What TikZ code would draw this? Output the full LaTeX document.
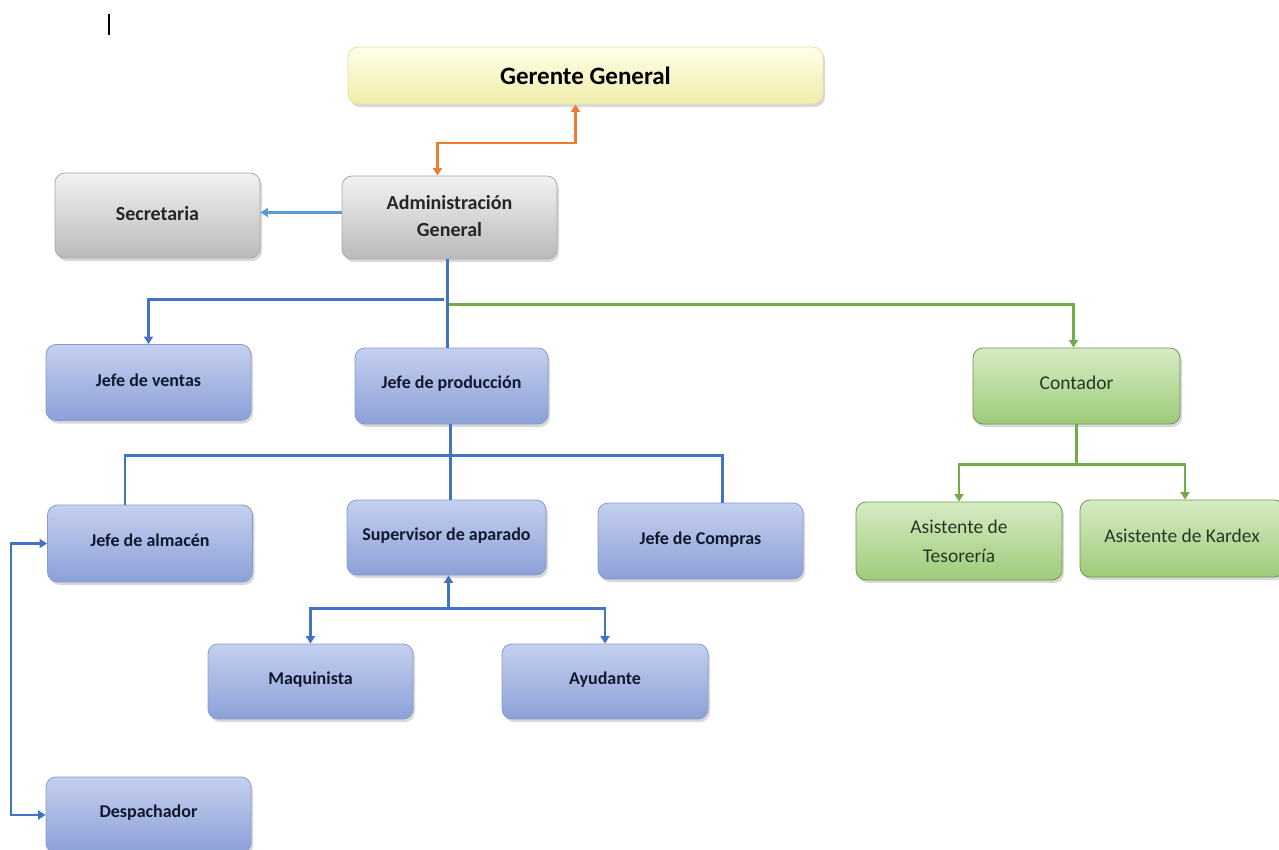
\documentclass[tikz,border=0pt]{standalone}
\usepackage{fontspec}
\setmainfont{Carlito}
\usetikzlibrary{arrows.meta,shadows,calc}

\definecolor{linkblue}{HTML}{4472C4}
\definecolor{linklight}{HTML}{5B9BD5}
\definecolor{linkgreen}{HTML}{70AD47}
\definecolor{linkorange}{HTML}{ED7D31}
\definecolor{txtblue}{HTML}{101830}
\definecolor{txtgreen}{HTML}{263823}
\definecolor{blueedge}{HTML}{879BD2}
\definecolor{bluetop}{HTML}{C4D0EE}
\definecolor{bluemid}{HTML}{A4B4E2}
\definecolor{bluebot}{HTML}{8CA0D8}
\definecolor{grayedge}{HTML}{AAAAAA}
\definecolor{graytop}{HTML}{F2F2F2}
\definecolor{graymid}{HTML}{D6D6D6}
\definecolor{graybot}{HTML}{BABABA}
\definecolor{greenedge}{HTML}{709650}
\definecolor{greentop}{HTML}{D6EBC3}
\definecolor{greenmid}{HTML}{B6D99B}
\definecolor{greenbot}{HTML}{9ECB7A}
\definecolor{yellowedge}{HTML}{E6E2AA}
\definecolor{yellowtop}{HTML}{FFFFE8}
\definecolor{yellowmid}{HTML}{FAF8C4}
\definecolor{yellowbot}{HTML}{F0ECAA}

% raise a label a little above the box centre
\newcommand{\liftby}[2]{\raisebox{#1}{#2}}

\tikzset{
  orgbox/.style={rounded corners=10pt, line width=0.8pt,
    drop shadow={opacity=0.30, shadow xshift=2pt, shadow yshift=-3pt}},
  bluebox/.style={orgbox, draw=blueedge,
    top color=bluetop, middle color=bluemid, bottom color=bluebot,
    minimum width=205pt, minimum height=76pt,
    font=\bfseries\fontsize{18}{22}\selectfont, text=txtblue},
  graybox/.style={orgbox, draw=grayedge,
    top color=graytop, middle color=graymid, bottom color=graybot,
    font=\bfseries\fontsize{20}{26}\selectfont, text=black!85},
  greenbox/.style={orgbox, draw=greenedge,
    top color=greentop, middle color=greenmid, bottom color=greenbot,
    font=\fontsize{19.5}{29}\selectfont, text=txtgreen, align=center},
  yellowbox/.style={orgbox, draw=yellowedge,
    top color=yellowtop, middle color=yellowmid, bottom color=yellowbot,
    font=\bfseries\fontsize{25}{30}\selectfont, text=black},
  arrowend/.style={-{Triangle[width=9pt,length=7.5pt]}},
  botharrows/.style={{Triangle[width=9pt,length=7.5pt]}-{Triangle[width=9pt,length=7.5pt]}},
  blueline/.style={draw=linkblue, line width=2.2pt},
  greenline/.style={draw=linkgreen, line width=2.2pt},
}

\begin{document}
\begin{tikzpicture}[x=1pt, y=-1pt]
\useasboundingbox (0,0) rectangle (1279,850);
\fill[white] (0,0) rectangle (1279,850);

% text cursor mark
\draw[line width=1.3pt, black] (109,14) -- (109,35);

% top management
\node[yellowbox, minimum width=475pt, minimum height=57pt] (gerente) at (585.5,75.5) {Gerente General};
\node[graybox, minimum width=215pt, minimum height=83pt] (admin) at (449.5,217.5)
  {\liftby{4pt}{\begin{tabular}{@{}c@{}}Administración\\[1pt] General\end{tabular}}};
\node[graybox, minimum width=205pt, minimum height=85pt] (secretaria) at (157.5,215.5) {\liftby{5pt}{Secretaria}};

% second level
\node[bluebox] (ventas) at (148.5,382.5) {\liftby{5pt}{Jefe de ventas}};
\node[bluebox, minimum width=193pt] (prod) at (451.5,386) {\liftby{7pt}{Jefe de producción}};
\node[greenbox, minimum width=207pt, minimum height=76pt] (contador) at (1076.5,386) {\liftby{7pt}{Contador}};

% third level
\node[bluebox, minimum height=77pt] (almacen) at (150,543.5) {\liftby{6pt}{Jefe de almacén}};
\node[bluebox, minimum width=199pt, minimum height=75pt] (sup) at (446.5,537.5) {\liftby{6pt}{Supervisor de aparado}};
\node[bluebox] (compras) at (700.5,541) {\liftby{6pt}{Jefe de Compras}};
\node[greenbox, minimum width=206pt, minimum height=78pt] (tesoreria) at (959,541) {Asistente de\\Tesorería};
\node[greenbox, minimum width=204pt, minimum height=77pt] (kardex) at (1182,538.5) {\liftby{6pt}{Asistente de Kardex}};

% fourth level
\node[bluebox, minimum height=75pt] (maq) at (310.5,681.5) {\liftby{6pt}{Maquinista}};
\node[bluebox, minimum width=206pt, minimum height=75pt] (ayud) at (605,681.5) {\liftby{6pt}{Ayudante}};
\node[bluebox] (desp) at (148.5,815) {\liftby{7pt}{Despachador}};

% junction points of the connectors
\coordinate (secout)  at ($(admin.west)+(0,-5)$);
\coordinate (adminout) at ($(admin.south)+(-2,0)$);
\coordinate (prodout)  at ($(prod.south)+(-1,0)$);
\coordinate (supin)    at ($(sup.south)+(2,0)$);
\coordinate (supsplit) at ($(sup.south)+(2,33)$);

% connectors
\draw[linkorange, line width=2.2pt, botharrows]
  ($(admin.north)+(-12,0)$) |- ($(gerente.south)+(-10,39)$) -- ($(gerente.south)+(-10,0)$);
\draw[linklight, line width=2.2pt, arrowend] (secout) -- (secout -| secretaria.east);

\draw[blueline] (adminout) -- (adminout |- prod.north);
\draw[blueline, arrowend] ($(admin.south)+(-6,40)$) -| (ventas.north);
\draw[greenline, arrowend] ($(admin.south)+(-1,45)$) -| ($(contador.north)+(-3,0)$);

\draw[blueline] (prodout) -- (prodout |- sup.north);
\draw[blueline] ($(almacen.north)+(-25,0)$) |- ($(prod.south)+(0,31)$) -| ($(compras.north)+(22,0)$);

\draw[blueline, arrowend] (supsplit) -- (supin);
\draw[blueline, arrowend] (supsplit) -| (maq.north);
\draw[blueline, arrowend] (supsplit) -| (ayud.north);

\draw[blueline, botharrows] (almacen.west) -- ++(-36,0) |- (desp.west);

\draw[greenline] (contador.south) -- ++(0,40) coordinate (gsplit);
\draw[greenline, arrowend] (gsplit) -| (tesoreria.north);
\draw[greenline, arrowend] (gsplit) -| ($(kardex.north)+(3,0)$);
\end{tikzpicture}
\end{document}
